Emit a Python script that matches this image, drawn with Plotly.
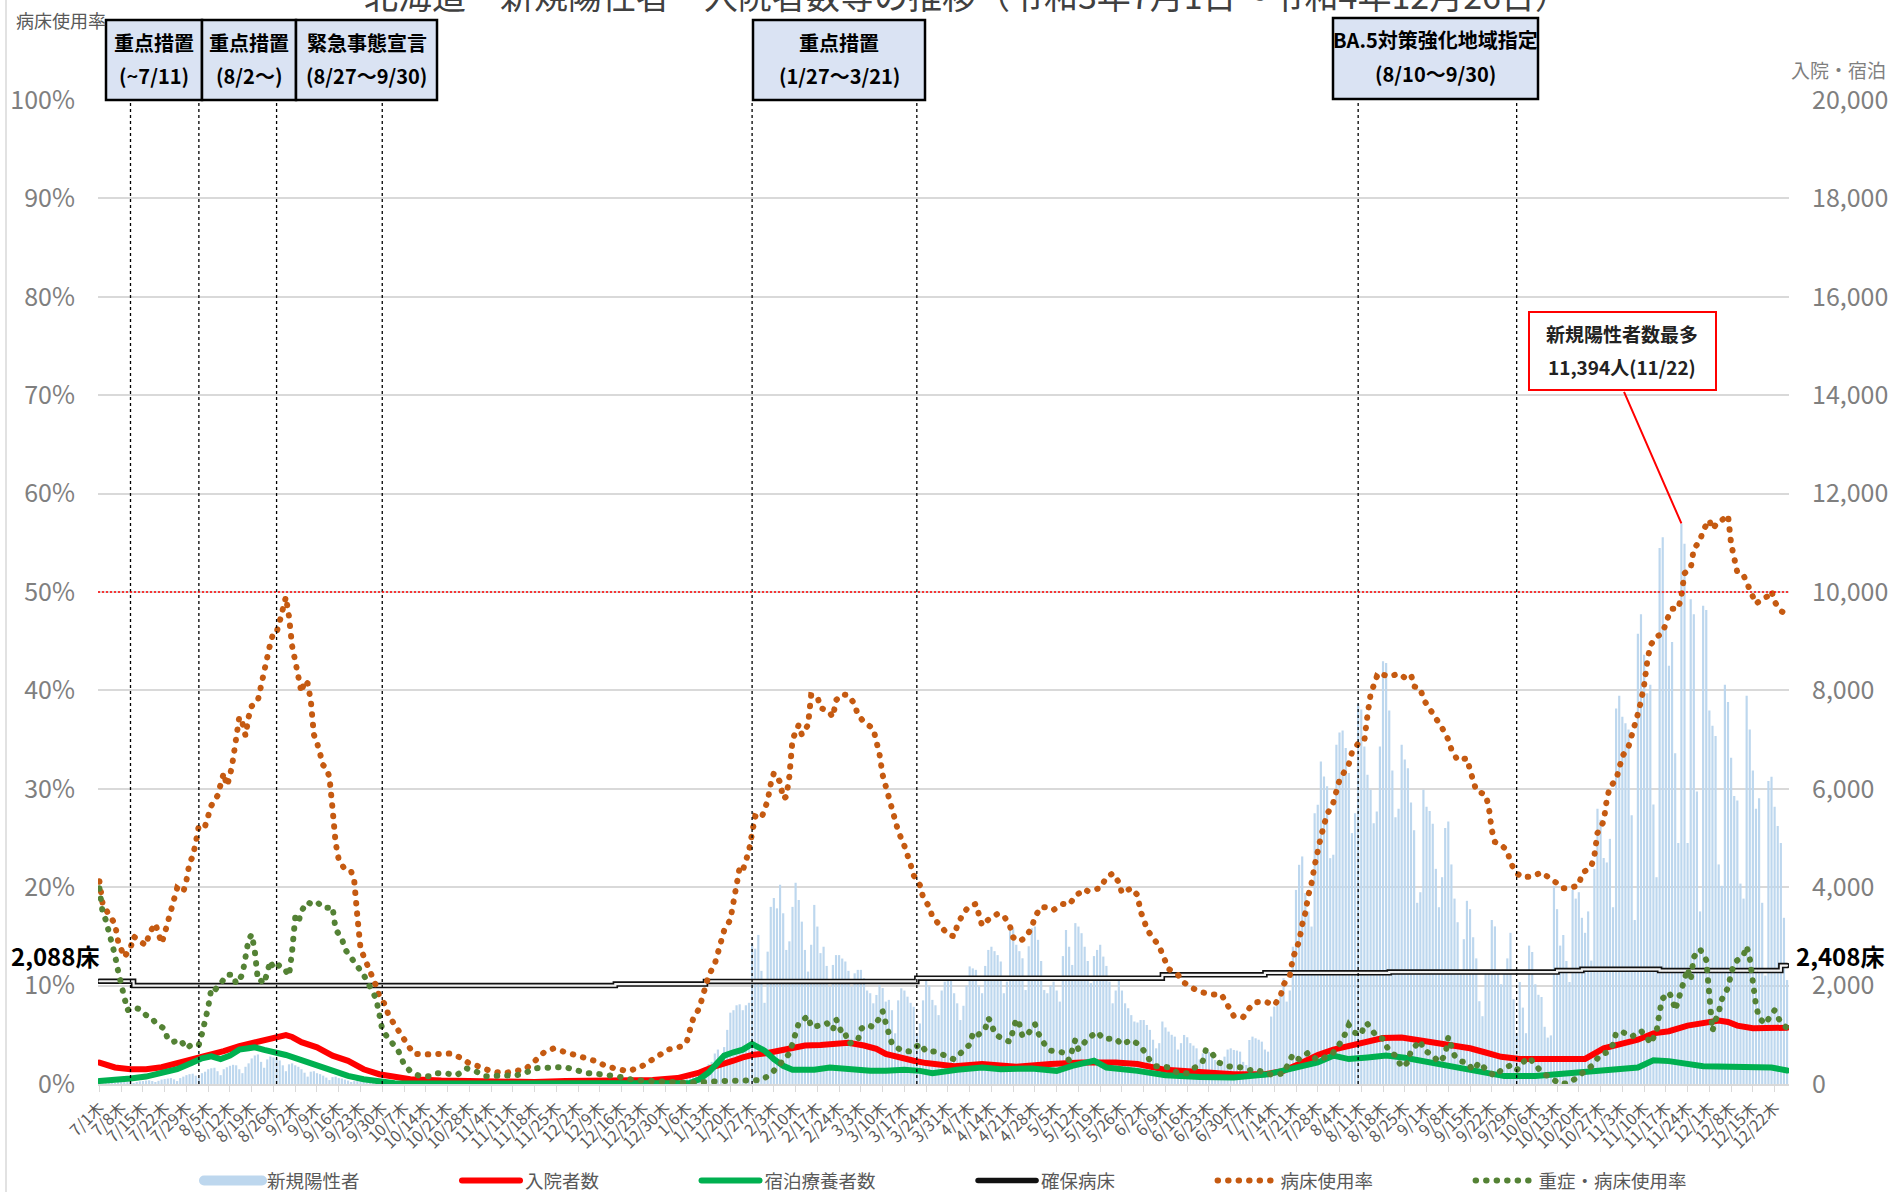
import pandas as pd
import plotly.graph_objects as go

START = pd.Timestamp("2021-07-01")
END = pd.Timestamp("2022-12-26")
FONT = "Noto Sans CJK JP"

# daily new positives, one row per week (Thu..Wed), 2021-07-01 .. 2022-12-26
new_cases = [
    25, 30, 28, 22, 12, 20, 30,
    35, 40, 45, 38, 20, 35, 55,
    60, 70, 75, 60, 35, 65, 90,
    100, 110, 120, 95, 60, 120, 150,
    180, 200, 210, 170, 120, 220, 250,
    300, 320, 330, 260, 180, 300, 340,
    370, 390, 380, 300, 220, 350, 420,
    520, 580, 600, 450, 330, 500, 560,
    540, 520, 480, 380, 260, 400, 420,
    380, 350, 300, 230, 150, 250, 260,
    220, 200, 170, 130, 80, 140, 150,
    120, 110, 90, 70, 40, 60, 80,
    60, 55, 45, 35, 20, 35, 45,
    35, 30, 28, 20, 12, 20, 25,
    20, 18, 16, 12, 8, 12, 16,
    14, 12, 12, 9, 5, 10, 12,
    10, 10, 9, 7, 4, 8, 10,
    9, 8, 8, 6, 3, 7, 9,
    10, 9, 8, 6, 4, 8, 12,
    14, 15, 14, 10, 6, 12, 18,
    22, 25, 24, 18, 10, 20, 25,
    28, 26, 22, 18, 9, 18, 20,
    18, 16, 14, 10, 6, 12, 15,
    12, 12, 10, 8, 5, 10, 12,
    10, 9, 9, 7, 4, 8, 10,
    12, 14, 12, 9, 6, 15, 20,
    25, 22, 18, 20, 30, 60, 90,
    110, 140, 170, 150, 130, 250, 330,
    400, 450, 620, 700, 560, 750, 1100,
    1450, 1500, 1600, 1620, 1500, 1600, 1650,
    2860, 2750, 3030, 2300, 1650, 2690, 3600,
    3780, 3570, 4050, 3470, 2725, 2900, 3600,
    4090, 3740, 3300, 2725, 2285, 2830, 3640,
    3200, 2660, 2790, 2400, 1980, 2420, 2620,
    2620, 2550, 2490, 2300, 1980, 2250, 2320,
    2320, 2150, 1900, 1845, 1640, 1810, 2010,
    1950, 1675, 1710, 1500, 1030, 1700, 1945,
    1900, 1775, 1650, 1570, 1030, 1230, 1700,
    2115, 2000, 1710, 1600, 1400, 1900, 2080,
    2100, 2115, 1845, 1640, 1300, 1590, 2000,
    2390, 2350, 2320, 2000, 1845, 2400, 2725,
    2790, 2700, 2620, 2490, 1845, 2080, 3130,
    3165, 2830, 2700, 2555, 1910, 2800, 3165,
    3200, 2930, 2500, 1910, 1845, 2000, 2080,
    1900, 1675, 2600, 3130, 2790, 2420, 3270,
    3200, 3065, 2790, 2500, 2050, 2600, 2725,
    2830, 2590, 2400, 2080, 1640, 1900, 2115,
    1900, 1640, 1540, 1400, 1270, 1250, 1300,
    1300, 1200, 1100, 900, 725, 830, 1270,
    1150, 1065, 1000, 963, 700, 830, 997,
    950, 830, 780, 725, 500, 624, 692,
    650, 600, 488, 450, 386, 556, 700,
    725, 692, 680, 658, 450, 386, 895,
    963, 929, 900, 861, 700, 658, 1370,
    1573, 1700, 1845, 2150, 1675, 1900, 2790,
    3945, 4455, 4625, 3880, 3505, 3200, 5505,
    5675, 6556, 6250, 6050, 4590, 4660, 6895,
    7145, 7187, 6830, 6320, 5100, 5505, 7740,
    7610, 6860, 6285, 5980, 5300, 5540, 6860,
    8590, 8556, 7593, 6373, 5423, 5593, 6893,
    6593, 6418, 5723, 5158, 3683, 3898, 5983,
    5633, 5548, 5288, 4373, 3593, 4203, 5203,
    5333, 4463, 3768, 3288, 2253, 2943, 3723,
    3553, 2983, 2553, 1683, 1378, 2248, 2293,
    3333, 3203, 2248, 2028, 2293, 2553, 3073,
    1723, 1033, 2073, 1553, 1033, 2813, 2683,
    2028, 1813, 1768, 1163, 943, 988, 4028,
    3553, 2813, 3028, 2500, 2073, 3943, 3768,
    3898, 3378, 3073, 3508, 2508, 4373, 5593,
    5373, 4593, 4503, 4983, 3593, 7633, 7893,
    7463, 7333, 7203, 5463, 3333, 9153, 9548,
    8723, 7943, 8113, 5683, 4203, 10893, 11113,
    9283, 8503, 8983, 6723, 4898, 11394, 10983,
    4898, 9853, 9548, 5943, 3508, 9723, 9633,
    7593, 7283, 7073, 4463, 4028, 8113, 7763,
    6633, 5853, 5763, 4073, 3768, 7893, 7203,
    6373, 5593, 5808, 3683, 2203, 6158, 6243,
    5633, 5243, 4898, 3378, 2113,
]

# (day offset from 2021-07-01, persons) read at points along the lines
hospitalized = [
    (0, 435), (5, 336), (10, 300), (15, 300), (20, 340), (25, 420), (30, 490), (35, 590),
    (40, 670), (45, 770), (50, 840), (55, 915), (58, 960), (60, 995), (62, 955), (65, 850),
    (70, 745), (75, 576), (80, 470), (85, 300), (90, 199), (95, 140), (100, 96), (110, 70),
    (120, 55), (130, 40), (140, 40), (150, 60), (160, 70), (170, 60), (178, 80), (186, 120),
    (190, 190), (193, 233), (197, 336), (201, 405), (204, 473), (207, 542), (210, 590),
    (215, 631), (219, 679), (223, 727), (227, 782), (232, 795), (237, 816), (241, 837),
    (246, 782), (250, 713), (253, 610), (257, 542), (262, 473), (266, 425), (270, 384),
    (275, 360), (284, 405), (295, 350), (306, 405), (316, 439), (327, 439), (334, 405),
    (343, 288), (354, 233), (365, 199), (375, 199), (381, 267), (386, 405), (392, 590),
    (397, 699), (402, 782), (408, 864), (413, 933), (419, 943), (425, 880), (430, 813),
    (436, 770), (441, 726), (446, 640), (451, 553), (457, 509), (468, 509), (478, 509),
    (484, 726), (490, 820), (495, 900), (500, 1030), (505, 1073), (511, 1187), (516, 1248),
    (521, 1291), (524, 1260), (527, 1187), (532, 1133), (537, 1133), (543, 1143),
]
hotel = [
    (0, 62), (5, 75), (10, 110), (15, 151), (20, 219), (25, 302), (30, 439), (33, 521),
    (36, 562), (39, 507), (42, 576), (45, 699), (48, 727), (50, 747), (53, 693), (57, 645),
    (60, 590), (65, 487), (70, 370), (75, 254), (80, 165), (85, 96), (90, 41), (95, 14),
    (110, 8), (130, 6), (150, 8), (170, 8), (190, 20), (193, 96), (196, 233), (199, 439),
    (201, 576), (204, 645), (207, 699), (210, 816), (214, 679), (217, 507), (220, 370),
    (223, 288), (230, 288), (235, 336), (242, 288), (248, 267), (253, 267), (259, 288),
    (264, 267), (268, 219), (276, 288), (284, 336), (290, 302), (300, 315), (308, 267),
    (313, 370), (320, 473), (324, 336), (334, 267), (343, 178), (354, 144), (365, 130),
    (376, 199), (386, 336), (392, 439), (397, 576), (402, 507), (408, 540), (414, 578),
    (420, 535), (430, 422), (441, 292), (452, 161), (462, 161), (473, 222), (484, 292),
    (495, 335), (500, 483), (505, 465), (516, 361), (527, 361), (538, 335), (543, 274),
]
secured_beds = [
    (0, 2088), (11, 2000), (166, 2030), (195, 2085), (263, 2150), (342, 2220), (375, 2260),
    (415, 2275), (469, 2305), (477, 2330), (502, 2305), (541, 2408), (543, 2408),
]
occupancy = [
    (0, 20.6), (1, 18.4), (3, 17.2), (5, 16.3), (6, 14.5), (8, 12.9), (10, 13.8), (11, 15.0),
    (13, 14.5), (15, 14.1), (16, 15.3), (18, 16.3), (19, 15.3), (20, 14.3), (21, 15.3),
    (22, 16.5), (23, 17.7), (24, 18.9), (25, 19.9), (27, 19.5), (28, 20.7), (29, 22.5),
    (30, 23.1), (31, 24.5), (32, 26.3), (34, 26.2), (35, 27.2), (36, 28.3), (38, 29.3),
    (39, 30.5), (40, 31.6), (41, 30.3), (42, 31.3), (43, 33.0), (44, 34.9), (45, 37.3),
    (46, 36.7), (47, 35.4), (48, 37.3), (49, 38.4), (51, 39.0), (52, 40.6), (53, 42.3),
    (54, 43.5), (55, 44.8), (56, 45.9), (57, 45.9), (58, 47.0), (59, 48.0), (60, 49.5),
    (61, 47.5), (62, 44.5), (63, 43.0), (64, 41.1), (65, 39.8), (66, 41.0), (67, 40.7),
    (68, 39.0), (69, 35.5), (70, 34.7), (71, 33.5), (72, 32.4), (73, 32.1), (74, 31.2),
    (75, 28.0), (76, 24.5), (77, 22.8), (79, 21.8), (81, 21.6), (82, 20.6), (83, 17.0),
    (84, 13.8), (85, 13.0), (86, 12.3), (87, 11.5), (88, 10.7), (89, 10.0), (90, 9.0),
    (92, 8.0), (93, 7.0), (95, 6.0), (97, 5.1), (99, 4.1), (101, 3.1), (104, 3.0),
    (107, 3.0), (110, 3.1), (113, 3.1), (116, 2.7), (119, 2.1), (122, 1.8), (126, 1.3),
    (130, 1.1), (134, 1.3), (137, 1.5), (140, 2.3), (143, 3.2), (146, 3.6), (149, 3.3),
    (153, 2.9), (157, 2.5), (160, 2.3), (163, 1.8), (167, 1.5), (170, 1.3), (174, 1.7),
    (177, 2.3), (180, 2.8), (183, 3.5), (187, 3.8), (189, 4.3), (190, 5.5), (191, 6.6),
    (193, 7.7), (194, 8.8), (195, 9.9), (196, 11.0), (198, 12.2), (199, 13.3), (200, 14.4),
    (201, 15.6), (203, 16.7), (204, 18.5), (205, 20.1), (206, 22.0), (207, 21.7), (208, 22.6),
    (209, 23.7), (210, 25.5), (211, 27.2), (213, 27.0), (215, 28.8), (216, 30.5), (217, 31.6),
    (219, 30.7), (220, 29.0), (221, 29.2), (222, 31.3), (223, 35.0), (225, 36.5), (226, 35.5),
    (228, 36.5), (229, 39.5), (231, 39.4), (232, 38.2), (234, 38.0), (235, 37.7), (236, 37.3),
    (237, 39.0), (239, 39.6), (241, 39.5), (243, 38.6), (244, 37.5), (246, 36.8), (249, 36.1),
    (250, 35.0), (251, 33.5), (252, 31.4), (253, 30.2), (254, 29.1), (255, 27.9), (256, 26.8),
    (257, 25.7), (259, 24.2), (260, 23.4), (261, 22.3), (262, 21.2), (264, 20.2), (265, 19.0),
    (267, 18.0), (268, 17.0), (270, 16.2), (273, 15.2), (275, 15.0), (276, 16.1), (278, 17.4),
    (280, 18.1), (282, 18.3), (283, 17.1), (284, 16.1), (286, 16.7), (287, 16.9), (289, 17.3),
    (291, 17.1), (292, 16.5), (293, 16.0), (294, 14.9), (296, 14.5), (298, 14.9), (300, 15.9),
    (301, 17.0), (303, 18.0), (306, 17.9), (307, 17.7), (310, 18.3), (312, 18.2), (314, 19.1),
    (317, 19.8), (318, 19.6), (320, 19.8), (322, 19.9), (324, 21.0), (326, 21.4), (328, 20.5),
    (329, 19.4), (332, 19.9), (334, 19.2), (335, 17.5), (336, 16.8), (337, 15.7), (339, 14.9),
    (341, 14.0), (342, 13.2), (343, 12.3), (344, 11.7), (347, 11.1), (349, 10.3), (352, 9.7),
    (355, 9.3), (358, 9.1), (361, 9.1), (363, 8.0), (365, 6.9), (368, 6.8), (370, 7.7),
    (372, 8.3), (375, 8.4), (378, 8.0), (380, 8.9), (381, 10.1), (383, 11.0), (384, 12.8),
    (386, 14.5), (387, 16.2), (388, 17.4), (389, 19.2), (390, 20.4), (391, 22.2), (392, 23.9),
    (393, 25.1), (394, 26.3), (395, 27.4), (397, 28.6), (398, 29.8), (399, 30.9), (402, 32.5),
    (403, 33.7), (405, 34.6), (407, 34.9), (408, 37.5), (409, 39.6), (410, 40.5), (411, 41.4),
    (412, 41.2), (413, 41.6), (415, 41.4), (418, 41.7), (420, 41.3), (422, 41.6), (423, 40.4),
    (425, 40.2), (426, 39.1), (428, 38.2), (430, 37.1), (432, 36.2), (434, 35.0), (435, 34.0),
    (437, 32.9), (440, 33.1), (441, 31.9), (442, 31.0), (443, 29.8), (446, 29.4), (447, 28.2),
    (448, 25.8), (449, 24.6), (451, 24.3), (453, 23.7), (454, 22.5), (456, 21.4), (458, 21.0),
    (461, 21.1), (464, 21.5), (467, 20.9), (469, 20.4), (471, 19.9), (473, 19.9), (476, 20.2),
    (477, 21.4), (480, 22.1), (481, 23.2), (482, 25.5), (484, 26.7), (485, 28.9), (486, 30.2),
    (488, 30.9), (489, 32.1), (490, 33.3), (492, 34.3), (493, 35.3), (494, 36.5), (495, 37.6),
    (496, 38.9), (497, 40.5), (498, 42.9), (499, 44.6), (501, 45.4), (503, 45.9), (505, 47.7),
    (506, 48.3), (508, 48.3), (509, 49.6), (510, 51.9), (512, 52.4), (513, 54.4), (515, 55.2),
    (516, 56.3), (518, 57.3), (519, 56.4), (521, 57.2), (522, 57.3), (524, 57.8), (525, 54.9),
    (526, 53.1), (527, 52.0), (529, 51.7), (531, 50.2), (533, 48.8), (535, 49.3), (537, 49.6),
    (538, 50.1), (539, 49.0), (541, 48.1), (543, 47.6),
]
severe = [
    (0, 19.9), (1, 17.5), (2, 16.7), (3, 15.6), (4, 14.3), (5, 13.1), (6, 11.5), (7, 10.0),
    (8, 8.4), (9, 7.5), (11, 7.8), (13, 7.6), (15, 7.0), (17, 6.7), (18, 6.2), (21, 5.6),
    (22, 4.5), (24, 4.3), (26, 4.5), (28, 3.6), (30, 4.1), (32, 4.0), (33, 5.1), (34, 6.2),
    (35, 7.8), (36, 9.7), (37, 9.5), (39, 10.2), (41, 11.1), (43, 11.1), (44, 10.2), (46, 11.1),
    (47, 12.8), (48, 14.7), (49, 15.2), (50, 13.5), (51, 10.5), (52, 10.5), (53, 10.2),
    (54, 11.3), (55, 12.5), (56, 11.7), (58, 12.1), (60, 11.5), (61, 11.0), (62, 13.5),
    (63, 16.9), (64, 16.4), (65, 17.6), (67, 18.5), (68, 18.3), (70, 18.5), (72, 17.9),
    (74, 17.9), (75, 18.0), (76, 15.7), (78, 14.8), (79, 13.7), (81, 12.8), (83, 12.0),
    (85, 11.1), (87, 9.9), (89, 8.7), (90, 7.2), (91, 5.5), (93, 4.6), (96, 3.5), (98, 2.0),
    (100, 1.3), (103, 0.8), (106, 0.8), (108, 1.1), (111, 1.1), (115, 0.9), (118, 1.6),
    (121, 1.3), (124, 0.8), (127, 0.8), (130, 0.9), (133, 0.8), (137, 1.1), (140, 1.6),
    (143, 1.7), (147, 1.7), (150, 1.7), (154, 1.4), (157, 1.1), (161, 1.0), (164, 0.9),
    (168, 0.7), (172, 0.4), (180, 0.2), (190, 0.1), (200, 0.3), (206, 0.3), (209, 0.4),
    (213, 0.4), (216, 1.0), (218, 1.6), (220, 2.4), (222, 3.1), (223, 4.0), (224, 5.1),
    (225, 6.2), (228, 6.9), (229, 5.8), (231, 5.9), (234, 6.2), (236, 5.5), (237, 6.6),
    (238, 5.9), (239, 5.0), (240, 5.1), (241, 4.1), (244, 4.4), (245, 5.6), (247, 6.0),
    (249, 5.8), (251, 6.7), (252, 7.4), (253, 6.2), (254, 5.1), (255, 4.1), (258, 3.4),
    (261, 3.3), (264, 4.1), (266, 3.3), (269, 3.3), (273, 2.8), (275, 2.5), (278, 3.4),
    (280, 4.0), (281, 5.1), (282, 4.8), (285, 5.6), (286, 6.7), (287, 6.2), (288, 5.1),
    (291, 4.5), (293, 4.3), (294, 5.5), (295, 6.6), (296, 6.1), (297, 4.8), (299, 5.2),
    (301, 6.1), (302, 5.2), (304, 4.1), (306, 3.4), (310, 3.2), (312, 2.4), (313, 3.5),
    (314, 4.5), (315, 3.5), (316, 3.9), (318, 4.6), (321, 5.3), (323, 4.6), (327, 4.6),
    (329, 4.0), (332, 4.5), (334, 4.1), (336, 3.4), (338, 2.4), (340, 1.8), (344, 1.7),
    (347, 1.1), (350, 1.1), (353, 1.8), (355, 2.3), (356, 3.5), (358, 3.1), (360, 2.2),
    (363, 1.8), (367, 1.7), (370, 1.4), (372, 1.5), (375, 1.1), (378, 0.9), (381, 1.1),
    (384, 3.0), (386, 2.5), (389, 3.2), (392, 2.4), (395, 2.8), (397, 3.2), (400, 4.5),
    (401, 5.2), (402, 6.0), (404, 5.2), (406, 5.0), (407, 6.1), (408, 6.1), (411, 4.8),
    (413, 4.6), (415, 3.3), (417, 2.9), (419, 1.7), (421, 2.2), (422, 3.4), (425, 4.4),
    (426, 3.5), (429, 2.9), (431, 2.2), (433, 2.9), (434, 4.8), (436, 2.9), (438, 2.3),
    (440, 2.2), (442, 1.4), (444, 2.2), (446, 1.5), (449, 0.8), (451, 1.4), (454, 1.9),
    (456, 1.4), (458, 2.2), (460, 2.7), (464, 1.2), (467, 0.6), (470, 0.0), (473, 0.1),
    (477, 1.0), (480, 1.8), (483, 3.0), (485, 3.2), (487, 4.0), (488, 5.2), (490, 5.3),
    (493, 4.8), (496, 5.4), (498, 4.7), (499, 4.1), (501, 5.3), (502, 7.4), (503, 8.7),
    (505, 9.3), (506, 8.7), (507, 7.5), (508, 8.7), (509, 9.5), (510, 10.5), (511, 11.7),
    (512, 10.6), (513, 12.9), (515, 13.7), (517, 12.6), (518, 9.0), (519, 5.4), (520, 6.5),
    (521, 7.3), (522, 8.6), (524, 9.8), (525, 11.2), (526, 12.3), (529, 13.1), (530, 14.0),
    (531, 12.8), (532, 10.3), (533, 8.0), (534, 6.7), (536, 6.1), (538, 7.1), (539, 7.5),
    (541, 6.2), (543, 5.7),
]

event_dates = ["2021-07-11", "2021-08-02", "2021-08-27", "2021-09-30",
               "2022-01-27", "2022-03-21", "2022-08-10", "2022-09-30"]
# measure boxes: pixel box (x0, x1, y0, y1), line 1, line 2
measure_boxes = [
    ((106, 202, 20, 100), "重点措置", "(~7/11)"),
    ((202, 296, 20, 100), "重点措置", "(8/2～)"),
    ((296, 437, 20, 100), "緊急事態宣言", "(8/27～9/30)"),
    ((753, 925, 20, 100), "重点措置", "(1/27～3/21)"),
    ((1333, 1538, 18, 99), "BA.5対策強化地域指定", "(8/10～9/30)"),
]
peak_date, peak_value = "2022-11-22", 11394

# ---------------------------------------------------------------
def to_dates(days):
    return [START + pd.Timedelta(days=int(d)) for d in days]

dates = pd.date_range(START, END, freq="D")
L, R, T, B = 98, 106, 100, 108
W, H = 1895, 1192
PW, PH = W - L - R, H - T - B

def px(x):
    return (x - L) / PW

def py(y):
    return (H - B - y) / PH

DOT = "0.5px,10px"   # round-capped -> dots
PAD = "\u3000" * 5   # spacing between legend entries

fig = go.Figure()
fig.add_trace(go.Bar(x=dates, y=new_cases, name="新規陽性者", marker_color="#bdd7ee",
                     marker_line_width=0, yaxis="y", showlegend=False))
# legend swatch for the bars (wide rectangle like the original legend)
fig.add_trace(go.Scatter(x=[None], y=[None], name="新規陽性者" + PAD, mode="lines",
                         line=dict(color="#bdd7ee", width=12), yaxis="y"))

d, v = zip(*hospitalized)
fig.add_trace(go.Scatter(x=to_dates(d), y=v, name="入院者数" + PAD, mode="lines",
                         line=dict(color="#ff0000", width=6), yaxis="y"))
d, v = zip(*hotel)
fig.add_trace(go.Scatter(x=to_dates(d), y=v, name="宿泊療養者数" + PAD, mode="lines",
                         line=dict(color="#00b050", width=6), yaxis="y"))
d, v = zip(*secured_beds)
fig.add_trace(go.Scatter(x=to_dates(d), y=v, name="確保病床" + PAD, mode="lines",
                         line=dict(color="#111111", width=5.5, shape="hv"), yaxis="y"))
fig.add_trace(go.Scatter(x=to_dates(d), y=v, showlegend=False, mode="lines", hoverinfo="skip",
                         line=dict(color="#f2f2f2", width=2.2, shape="hv"), yaxis="y"))
d, v = zip(*occupancy)
fig.add_trace(go.Scatter(x=to_dates(d), y=v, name="病床使用率" + PAD, mode="lines",
                         line=dict(color="#c55a11", width=6, dash=DOT), yaxis="y2"))
d, v = zip(*severe)
fig.add_trace(go.Scatter(x=to_dates(d), y=v, name="重症・病床使用率", mode="lines",
                         line=dict(color="#548235", width=6, dash=DOT), yaxis="y2"))

tick_dates = pd.date_range(START, END, freq="7D")
tick_text = [f"{t.month}/{t.day}木" for t in tick_dates]

shapes = []
for ev in event_dates:
    shapes.append(dict(type="line", xref="x", yref="y2", x0=ev, x1=ev, y0=0, y1=100,
                       line=dict(color="#000000", width=1.3, dash="3px,3px"), layer="above"))
shapes.append(dict(type="line", xref="paper", yref="y2", x0=0, x1=1, y0=50, y1=50,
                   line=dict(color="#ff0000", width=1.5, dash="2px,2px"), layer="above"))
annotations = []

def label(x, y, text, size, color, xanchor="center", bold=False):
    annotations.append(dict(xref="paper", yref="paper", x=px(x), y=py(y),
                            xanchor=xanchor, yanchor="middle",
                            text=f"<b>{text}</b>" if bold else text, showarrow=False,
                            font=dict(size=size, color=color, family=FONT)))

for (x0, x1, y0, y1), t1, t2 in measure_boxes:
    shapes.append(dict(type="rect", xref="paper", yref="paper", x0=px(x0), x1=px(x1),
                       y0=py(y1), y1=py(y0), fillcolor="#dae3f3",
                       line=dict(color="#000000", width=2.5), layer="above"))
    cx = (x0 + x1) / 2
    label(cx, y0 + 22, t1, 20, "#000000", bold=True)
    label(cx, y0 + 55, t2, 20, "#000000", bold=True)

# callout for the peak
shapes.append(dict(type="rect", xref="paper", yref="paper", x0=px(1529), x1=px(1716),
                   y0=py(390), y1=py(312), fillcolor="#ffffff",
                   line=dict(color="#ff0000", width=2), layer="above"))
label(1622, 333, "新規陽性者数最多", 19, "#222222", bold=True)
label(1622, 366, "11,394人(11/22)", 19, "#222222", bold=True)
annotations.append(dict(xref="x", yref="y", x=peak_date, y=peak_value, ax=-58, ay=-133,
                        text="", showarrow=True, arrowhead=0, arrowwidth=2, arrowcolor="#ff0000",
                        standoff=0, startstandoff=0))
# border at the left of the chart area
shapes.append(dict(type="line", xref="paper", yref="paper", x0=px(6), x1=px(6),
                   y0=py(H), y1=py(0), line=dict(color="#d9d9d9", width=1.5)))

label(967, -6, "北海道　新規陽性者・入院者数等の推移（令和3年7月1日～令和4年12月26日）", 34, "#404040")
label(14, 20, "病床使用率", 18, "#595959", xanchor="left")
label(1888, 70, "入院・宿泊", 19, "#7f7f7f", xanchor="right")
label(9, 955, "2,088床", 24, "#000000", xanchor="left", bold=True)
label(1794, 955, "2,408床", 24, "#000000", xanchor="left", bold=True)

fig.update_layout(
    width=W, height=H,
    margin=dict(l=L, r=R, t=T, b=B, autoexpand=False),
    paper_bgcolor="#ffffff", plot_bgcolor="#ffffff",
    font=dict(family=FONT, color="#595959"),
    bargap=0.3,
    xaxis=dict(type="date",
               range=[START - pd.Timedelta(hours=11), END + pd.Timedelta(hours=15)],
               tickvals=tick_dates, ticktext=tick_text, tickangle=-45,
               tickfont=dict(size=16, color="#595959"),
               ticks="outside", ticklen=6, tickcolor="#d9d9d9",
               showline=True, linecolor="#d9d9d9", linewidth=2, showgrid=False, zeroline=False),
    yaxis=dict(side="right", range=[0, 20000], dtick=2000, tickformat=",d",
               showgrid=True, gridcolor="#d9d9d9", gridwidth=2, zeroline=False,
               tickfont=dict(size=25, color="#7f7f7f"), ticklabelstandoff=22),
    yaxis2=dict(overlaying="y", side="left", range=[0, 100], dtick=10, ticksuffix="%",
                showgrid=False, zeroline=False,
                tickfont=dict(size=25, color="#7f7f7f"), ticklabelstandoff=22),
    legend=dict(orientation="h", x=px(199), y=py(1181), xanchor="left", yanchor="middle",
                font=dict(size=18.5, color="#595959"), itemwidth=58,
                bgcolor="rgba(0,0,0,0)", traceorder="normal"),
    shapes=shapes, annotations=annotations,
    showlegend=True,
)

css = ("var s=document.createElement('style');"
       "s.innerHTML='.js-line{stroke-linecap:round !important;}';"
       "document.head.appendChild(s);"
       "document.body.style.margin='0';document.body.style.overflow='hidden';")
fig.write_html("out.html", post_script=css, config={"displayModeBar": False})
